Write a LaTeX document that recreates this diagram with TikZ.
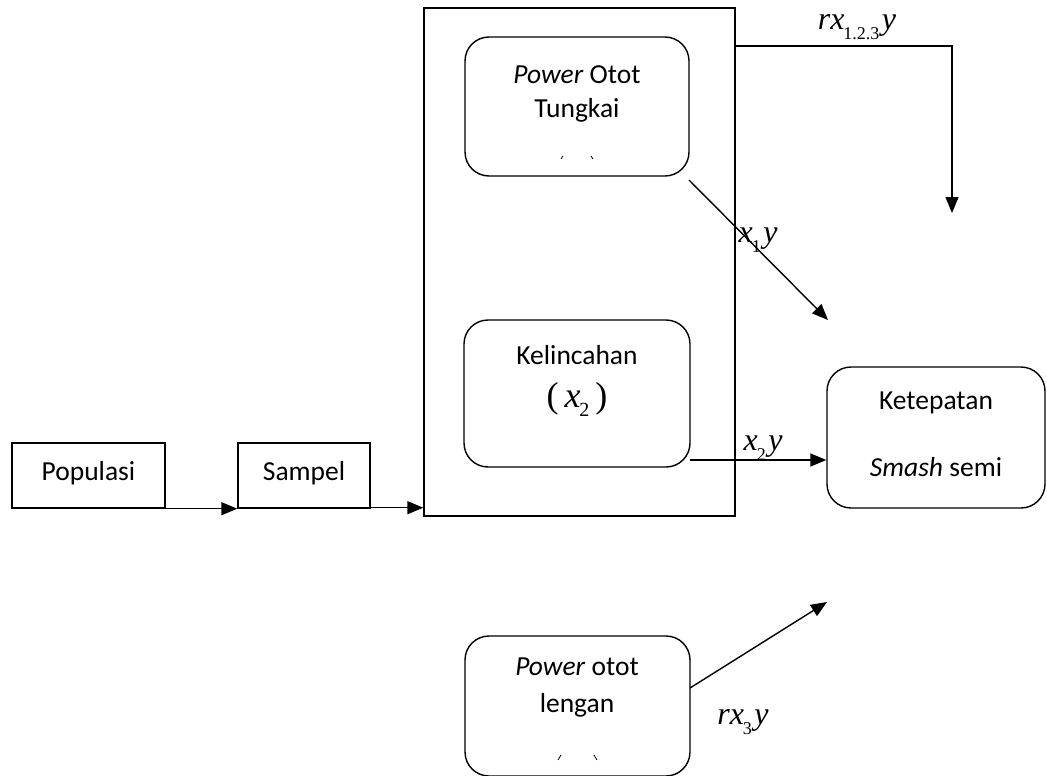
\documentclass[tikz,border=0pt]{standalone}
\usepackage{fontspec}
\setmainfont{Carlito}
\newfontfamily\tnr{Liberation Serif}
\usetikzlibrary{arrows.meta,calc}
\newcommand{\sbs}[1]{\kern-1pt\raisebox{-0.3em}{\fontsize{18}{18}\selectfont\tnr\upshape #1}\kern2.5pt}
\begin{document}
\begin{tikzpicture}[x=1pt,y=-1pt,line width=1.4pt,
  sq/.style={draw,rectangle,inner sep=0pt},
  rbox/.style={draw,rectangle,rounded corners=24pt,inner sep=0pt},
  lbl/.style={font=\fontsize{27.5}{32}\selectfont,inner sep=0pt},
  mlbl/.style={font=\fontsize{32}{36}\selectfont\tnr\itshape,inner sep=0pt},
  arr/.style={-{Triangle[length=16pt,width=13pt]}}]
\useasboundingbox (0,0) rectangle (1047,776);
\fill[white] (0,0) rectangle (1047,776);
% boxes
\node[sq,minimum width=153pt,minimum height=65pt] (pop) at (88.5,475.5) {};
\node[sq,minimum width=132pt,minimum height=65pt] (samp) at (304,475.5) {};
\node[sq,minimum width=311pt,minimum height=508pt] (big) at (579.5,262) {};
\node[rbox,minimum width=224pt,minimum height=139pt] (b1) at (577,106.5) {};
\node[rbox,minimum width=226pt,minimum height=147pt] (b2) at (577,393.5) {};
\node[rbox,minimum width=225pt,minimum height=140pt] (b3) at (577.5,706) {};
\node[rbox,minimum width=218pt,minimum height=141pt] (ket) at (936,437.5) {};
% texts
\node[lbl] (tpop) at (88.5,473) {Populasi};
\node[lbl] (tsamp) at (304,473) {Sampel};
\node[lbl] (t1a) at (577,75) {\textit{Power} Otot};
\node[lbl] (t1b) at (577,110) {Tungkai};
\node[lbl] (t2a) at (577,355) {Kelincahan};
\node[font=\fontsize{36}{38}\selectfont\tnr,inner sep=0pt] (t2b) at (577,400) {(\,\textit{x}\kern-1pt\raisebox{-0.25em}{\fontsize{20}{20}\selectfont 2}\,)};
\node[lbl] (t3a) at (577,667) {\textit{Power} otot};
\node[lbl] (t3b) at (577,705) {lengan};
\node[lbl] (tka) at (936,403) {Ketepatan};
\node[lbl] (tkb) at (936,467) {\textit{Smash} semi};
% clipped bracket fragments
\draw[line width=0.8pt] (561,159) -- (563,156) (591,156) -- (593,159);
\draw[line width=0.8pt] (558,760) -- (561,755) (594,755) -- (597,760);
% connector ends
\coordinate (e1) at (828,320);
\coordinate (e3) at (827,602);
\coordinate (e4) at (952,213);
\coordinate (s1) at (689,180);
\coordinate (s2) at (690,460);
\coordinate (s3) at (690,688);
\coordinate (s4) at (735,46);
% connectors
\draw[arr] (pop.south east) -- (samp.south west);
\draw[arr] ($(samp.south east)+(0,-1)$) -- ($(samp.south east -| big.west)+(0,-1)$);
\draw[arr] (s1) -- (e1);
\draw[arr] (s2) -- (s2 -| ket.west);
\draw[arr] (s3) -- (e3);
\draw[arr] (s4) -- (s4 -| e4) -- (e4);
% labels
\node[mlbl] (l123) at (857,27) {rx\sbs{1.2.3}y};
\node[mlbl] (l1) at (758,240) {x\sbs{1}y};
\node[mlbl] (l2) at (763,448) {x\sbs{2}y};
\node[mlbl] (l3) at (743,722) {rx\sbs{3}y};
\end{tikzpicture}
\end{document}
